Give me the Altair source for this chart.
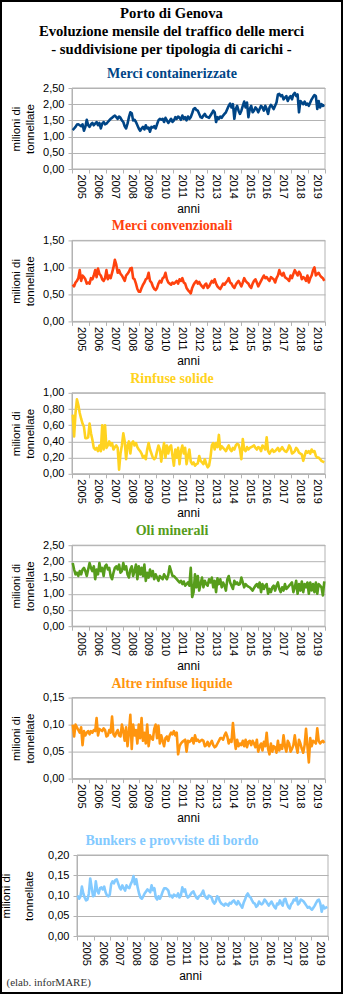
import altair as alt
import pandas as pd

anni = list(range(2005, 2020))

merci_containerizzate = [
    1.20, 1.25, 1.30, 1.37, 1.38, 1.35, 1.32, 1.38, 1.18, 1.30, 1.52, 1.35,
    1.30, 1.38, 1.42, 1.35, 1.40, 1.45, 1.35, 1.42, 1.25, 1.40, 1.45, 1.38,
    1.40, 1.45, 1.50, 1.55, 1.58, 1.62, 1.65, 1.60, 1.55, 1.62, 1.58, 1.50,
    1.45, 1.32, 1.25, 1.40, 1.60, 1.75, 1.72, 1.50, 1.52, 1.45, 1.35, 1.25,
    1.18, 1.25, 1.30, 1.22, 1.35, 1.25, 1.28, 1.15, 1.30, 1.28, 1.32, 1.25,
    1.38, 1.50, 1.55, 1.52, 1.55, 1.45, 1.58, 1.50, 1.42, 1.48, 1.55, 1.45,
    1.50, 1.60, 1.55, 1.62, 1.58, 1.52, 1.65, 1.55, 1.60, 1.50, 1.62, 1.55,
    1.60, 1.72, 1.85, 1.88, 1.82, 1.80, 1.70, 1.60, 1.58, 1.65, 1.70, 1.62,
    1.60, 1.58, 1.65, 1.72, 1.80, 1.75, 1.45, 1.60, 1.55, 1.62, 1.58, 1.65,
    1.70, 1.75, 1.85, 1.95, 2.02, 1.90, 2.00, 1.55, 1.85, 1.95, 1.80, 1.70,
    1.80, 1.95, 2.08, 1.90, 2.05, 1.60, 1.85, 1.95, 1.75, 1.80, 1.90, 1.85,
    1.75, 1.85, 1.95, 1.90, 1.80, 1.95, 1.85, 1.70, 1.90, 1.98, 1.92, 1.85,
    1.95, 2.05, 2.30, 2.32, 2.25, 2.28, 2.15, 2.20, 2.25, 2.10, 2.20, 2.25,
    2.15, 2.30, 2.35, 2.25, 2.30, 1.75, 2.10, 2.05, 2.00, 2.08, 1.98, 2.02,
    1.95, 2.05, 2.15, 2.22, 2.28, 2.25, 1.85, 2.10, 1.90, 2.00, 1.95, 1.98,
]

merci_convenzionali = [
    0.68, 0.65, 0.72, 0.75, 0.80, 0.95, 0.75, 0.85, 0.82, 0.78, 0.70, 0.72,
    0.70, 0.80, 0.78, 0.85, 0.95, 0.82, 0.98, 0.88, 0.85, 0.78, 0.75, 0.80,
    0.95, 0.78, 0.85, 0.80, 0.90, 1.00, 1.14, 1.05, 0.90, 0.95, 0.88, 0.85,
    0.80, 0.75, 0.85, 0.88, 0.92, 0.98, 0.99, 0.80, 0.78, 0.70, 0.60, 0.55,
    0.55, 0.62, 0.68, 0.72, 0.78, 0.80, 0.90, 0.75, 0.72, 0.65, 0.60, 0.58,
    0.62, 0.70, 0.75, 0.72, 0.80, 0.82, 0.90, 0.78, 0.72, 0.70, 0.68, 0.72,
    0.70, 0.72, 0.75, 0.70, 0.78, 0.75, 0.80, 0.72, 0.70, 0.62, 0.58, 0.55,
    0.52, 0.62, 0.68, 0.72, 0.75, 0.70, 0.73, 0.68, 0.65, 0.62, 0.68, 0.70,
    0.62, 0.65, 0.70, 0.75, 0.72, 0.78, 0.70, 0.65, 0.62, 0.60, 0.65, 0.70,
    0.68, 0.72, 0.75, 0.80, 0.72, 0.70, 0.65, 0.62, 0.68, 0.72, 0.75, 0.70,
    0.65, 0.72, 0.80, 0.75, 0.72, 0.70, 0.65, 0.62, 0.70, 0.75, 0.78, 0.72,
    0.65, 0.70, 0.75, 0.80, 0.85, 0.80, 0.82, 0.78, 0.75, 0.82, 0.80, 0.78,
    0.72, 0.80, 0.85, 0.95, 0.88, 0.85, 0.90, 0.82, 0.80, 0.78, 0.75, 0.85,
    0.80, 0.88, 0.95, 0.90, 0.85, 0.92, 0.88, 0.78, 0.82, 0.80, 0.75, 0.85,
    0.72, 0.80, 0.85, 0.95, 1.00, 0.85, 0.88, 0.90, 0.85, 0.82, 0.80, 0.75,
]

rinfuse_solide = [
    0.73, 0.46, 0.75, 0.92, 0.85, 0.75, 0.68, 0.62, 0.58, 0.44, 0.44, 0.45,
    0.62, 0.50, 0.42, 0.32, 0.30, 0.32, 0.28, 0.35, 0.28, 0.60, 0.30, 0.60,
    0.32, 0.35, 0.40, 0.35, 0.38, 0.30, 0.33, 0.35, 0.32, 0.05, 0.25, 0.35,
    0.50, 0.40, 0.18, 0.35, 0.40, 0.25, 0.38, 0.40, 0.35, 0.38, 0.33, 0.30,
    0.28, 0.25, 0.20, 0.22, 0.18, 0.30, 0.38, 0.30, 0.25, 0.20, 0.18, 0.20,
    0.28, 0.35, 0.30, 0.15, 0.28, 0.38, 0.20, 0.35, 0.25, 0.33, 0.35, 0.22,
    0.10, 0.30, 0.20, 0.32, 0.12, 0.28, 0.35, 0.25, 0.32, 0.12, 0.22, 0.30,
    0.15, 0.12, 0.14, 0.10, 0.12, 0.13, 0.22, 0.16, 0.14, 0.12, 0.18, 0.12,
    0.08, 0.10, 0.20, 0.35, 0.38, 0.30, 0.38, 0.33, 0.48, 0.30, 0.34, 0.32,
    0.30, 0.28, 0.32, 0.35, 0.30, 0.28, 0.32, 0.30, 0.35, 0.37, 0.36, 0.30,
    0.18, 0.43, 0.30, 0.28, 0.33, 0.30, 0.32, 0.33, 0.34, 0.35, 0.32, 0.30,
    0.33, 0.32, 0.28, 0.35, 0.33, 0.30, 0.45, 0.28, 0.25, 0.28, 0.30, 0.27,
    0.28, 0.30, 0.32, 0.28, 0.30, 0.33, 0.30, 0.28, 0.27, 0.30, 0.35, 0.32,
    0.25, 0.26, 0.28, 0.32, 0.30, 0.26, 0.25, 0.24, 0.16, 0.22, 0.28, 0.26,
    0.28, 0.25, 0.30, 0.27, 0.28, 0.22, 0.20, 0.20, 0.18, 0.16, 0.15, 0.14,
]

oli_minerali = [
    1.95, 1.75, 1.60, 1.65, 1.55, 1.70, 1.60, 1.75, 1.80, 1.70, 1.55, 1.75,
    1.95, 1.80, 1.70, 1.85, 1.45, 1.75, 1.60, 1.95, 1.70, 1.80, 1.55, 1.85,
    1.90, 1.75, 1.80, 1.55, 1.45, 1.65, 1.80, 1.85, 1.75, 1.90, 1.65, 1.70,
    1.95, 1.75, 1.85, 1.60, 1.50, 1.75, 1.85, 1.55, 1.70, 1.90, 1.45, 1.85,
    1.60, 1.80, 1.55, 1.90, 1.40, 1.65, 1.50, 1.75, 1.55, 1.70, 1.45, 1.60,
    1.50, 1.40, 1.55, 1.50, 1.45, 1.60, 1.52, 1.45, 1.58, 1.85, 1.70, 1.55,
    1.55, 1.50, 1.45, 1.40, 1.35, 1.40, 1.30, 1.38, 1.25, 1.30, 1.35, 1.25,
    1.80, 0.90, 1.05, 1.60, 1.20, 1.55, 1.10, 1.30, 1.50, 1.20, 1.40, 1.30,
    1.25, 1.45, 1.35, 1.50, 1.20, 1.40, 1.05, 1.48, 1.30, 1.45, 1.20, 1.35,
    1.25, 1.10, 1.45, 1.55, 1.35, 1.25, 1.15, 1.40, 1.30, 1.35, 1.28, 1.30,
    1.50, 1.35, 1.20, 1.30, 1.25, 1.22, 1.20, 1.15, 1.10, 1.18, 1.25, 1.30,
    1.20, 1.35, 1.05, 1.30, 1.15, 1.25, 1.30, 1.00, 1.15, 1.05, 1.20, 1.25,
    1.10, 1.25, 1.35, 1.15, 1.05, 1.20, 1.10, 1.30, 1.15, 1.20, 1.25, 1.30,
    1.35, 1.05, 1.20, 1.40, 1.00, 1.30, 1.10, 1.38, 1.05, 1.30, 1.20, 1.35,
    1.00, 1.35, 1.10, 1.30, 1.05, 1.35, 1.00, 1.30, 1.25, 1.20, 0.95, 1.38,
]

altre_rinfuse_liquide = [
    0.100, 0.078, 0.100, 0.095, 0.090, 0.085, 0.095, 0.062, 0.088, 0.080, 0.085, 0.088,
    0.082, 0.088, 0.085, 0.090, 0.088, 0.112, 0.080, 0.092, 0.090, 0.088, 0.093, 0.090,
    0.078, 0.080, 0.090, 0.085, 0.115, 0.082, 0.078, 0.085, 0.090, 0.080, 0.078, 0.100,
    0.088, 0.070, 0.095, 0.060, 0.085, 0.118, 0.055, 0.100, 0.080, 0.090, 0.065, 0.100,
    0.075, 0.112, 0.070, 0.085, 0.065, 0.100, 0.060, 0.080, 0.075, 0.072, 0.092, 0.100,
    0.075, 0.098, 0.065, 0.080, 0.070, 0.060, 0.075, 0.078, 0.070, 0.080, 0.085, 0.082,
    0.088, 0.080, 0.085, 0.045, 0.060, 0.065, 0.068, 0.070, 0.072, 0.050, 0.070, 0.068,
    0.070, 0.075, 0.065, 0.080, 0.070, 0.072, 0.068, 0.070, 0.072, 0.070, 0.060, 0.062,
    0.068, 0.060, 0.065, 0.070, 0.062, 0.058, 0.060, 0.065, 0.070, 0.075, 0.075, 0.072,
    0.080, 0.085, 0.078, 0.065, 0.072, 0.068, 0.103, 0.075, 0.055, 0.072, 0.060, 0.065,
    0.062, 0.070, 0.060, 0.072, 0.058, 0.068, 0.070, 0.062, 0.070, 0.065, 0.058, 0.072,
    0.050, 0.060, 0.065, 0.052, 0.068, 0.060, 0.085, 0.055, 0.045, 0.065, 0.050, 0.060,
    0.058, 0.048, 0.070, 0.052, 0.062, 0.055, 0.080, 0.060, 0.050, 0.070, 0.065, 0.050,
    0.055, 0.062, 0.080, 0.060, 0.048, 0.072, 0.065, 0.055, 0.048, 0.062, 0.092, 0.060,
    0.030, 0.075, 0.060, 0.070, 0.068, 0.065, 0.093, 0.070, 0.065, 0.068, 0.070, 0.066,
]

bunkers_provviste = [
    0.100, 0.092, 0.098, 0.122, 0.105, 0.095, 0.088, 0.090, 0.105, 0.142, 0.120, 0.098,
    0.100, 0.135, 0.112, 0.105, 0.118, 0.120, 0.115, 0.122, 0.108, 0.100, 0.098, 0.102,
    0.128, 0.135, 0.130, 0.138, 0.140, 0.130, 0.120, 0.115, 0.125, 0.118, 0.112, 0.125,
    0.120, 0.118, 0.128, 0.135, 0.148, 0.128, 0.140, 0.120, 0.105, 0.095, 0.092, 0.098,
    0.105, 0.110, 0.115, 0.112, 0.108, 0.125, 0.113, 0.118, 0.095, 0.090, 0.098, 0.092,
    0.100, 0.110, 0.118, 0.118, 0.116, 0.112, 0.098, 0.100, 0.095, 0.102, 0.100, 0.098,
    0.105, 0.095, 0.100, 0.120, 0.110, 0.115, 0.100, 0.095, 0.098, 0.103, 0.108, 0.110,
    0.102, 0.095, 0.092, 0.098, 0.100, 0.105, 0.112, 0.100, 0.095, 0.092, 0.100, 0.098,
    0.095, 0.085, 0.080, 0.085, 0.098, 0.095, 0.085, 0.080, 0.078, 0.075, 0.080, 0.078,
    0.075, 0.082, 0.080, 0.085, 0.088, 0.082, 0.078, 0.086, 0.080, 0.075, 0.070, 0.082,
    0.090, 0.100, 0.105, 0.098, 0.095, 0.088, 0.082, 0.080, 0.072, 0.075, 0.085, 0.080,
    0.078, 0.082, 0.090, 0.086, 0.080, 0.075, 0.080, 0.085, 0.078, 0.072, 0.068, 0.080,
    0.078, 0.088, 0.080, 0.075, 0.090, 0.092, 0.080, 0.072, 0.068, 0.078, 0.082, 0.090,
    0.088, 0.095, 0.078, 0.082, 0.090, 0.088, 0.085, 0.080, 0.075, 0.070, 0.072, 0.068,
    0.065, 0.070, 0.075, 0.082, 0.088, 0.090, 0.080, 0.060, 0.075, 0.068, 0.070, 0.072,
]

titolo = ["Porto di Genova",
          "Evoluzione mensile del traffico delle merci",
          "- suddivisione per tipologia di carichi -"]
fonte = "(elab. inforMARE)"

pannelli = [
    ("Merci containerizzate", "#004586", merci_containerizzate, 2.5, [0, 0.5, 1.0, 1.5, 2.0, 2.5]),
    ("Merci convenzionali", "#ff420e", merci_convenzionali, 1.5, [0, 0.5, 1.0, 1.5]),
    ("Rinfuse solide", "#ffd320", rinfuse_solide, 1.0, [0, 0.2, 0.4, 0.6, 0.8, 1.0]),
    ("Oli minerali", "#579d1c", oli_minerali, 2.5, [0, 0.5, 1.0, 1.5, 2.0, 2.5]),
    ("Altre rinfuse liquide", "#ff950e", altre_rinfuse_liquide, 0.15, [0, 0.05, 0.10, 0.15]),
    ("Bunkers e provviste di bordo", "#83caff", bunkers_provviste, 0.20, [0, 0.05, 0.10, 0.15, 0.20]),
]

GRAY = "#b3b3b3"
SANS = "Liberation Sans"
SERIF = "Liberation Serif"
LEFT = 72      # page x of every panel's group origin
TOP0 = 88      # page y of the first panel's group origin
H = 81
W = 253
SPACING = 71.4


def make_panel(idx, title, color, values, ymax, yticks, dx=0, dy=0, wvis=W, title_lh=14.5,
               ytitle_x=16, xtitle_x=188):
    gw = dx + wvis          # group width
    gh = dy + H             # group height
    top = TOP0 + idx * (H + SPACING)
    t = [anni[0] + (i + 0.5) / 12 for i in range(len(values))]
    df = pd.DataFrame({"t": t, "v": values})
    xaxis = alt.Axis(
        values=anni + [anni[-1] + 1],
        labelExpr="datum.value < 2020 ? toString(datum.value) : ''",
        labelAngle=90, labelOffset=wvis / 30, labelFlush=False, labelOverlap=False,
        tickSize=4, labelPadding=1, labelFont=SANS, labelFontSize=11, labelColor="black",
        grid=False, domainColor=GRAY, tickColor=GRAY,
        title="anni", titleFont=SANS, titleFontSize=12, titleFontWeight="normal",
        titleColor="black", titleX=xtitle_x - LEFT, titleY=43, titleBaseline="alphabetic",
        titleAlign="center",
    )
    yaxis = alt.Axis(
        values=yticks, offset=-dx,
        labelExpr="replace(format(datum.value, '.2f'), '.', ',')",
        tickSize=4, labelPadding=4, labelFont=SANS, labelFontSize=11, labelColor="black",
        gridColor=GRAY, domainColor=GRAY, tickColor=GRAY,
        title=["milioni di", "tonnellate"], titleFont=SANS, titleFontSize=11.5,
        titleFontWeight="normal", titleColor="black", titleAngle=270,
        titleX=ytitle_x - (LEFT + dx), titleY=dy + H / 2, titleBaseline="middle",
        titleAlign="center", titleLineHeight=title_lh,
    )
    line = alt.Chart(df).mark_line(color=color, strokeWidth=2.6, strokeJoin="round").encode(
        x=alt.X("t:Q", scale=alt.Scale(domain=[2005, 2020], nice=False, zero=False, range=[dx, gw]),
                axis=xaxis),
        y=alt.Y("v:Q", scale=alt.Scale(domain=[0, ymax], nice=False, range=[gh, dy]), axis=yaxis),
    )
    one = alt.Data(values=[{}])
    ttl = alt.Chart(one).mark_text(
        text=title, font=SERIF, fontSize=14, fontWeight="bold", color=color,
        align="center", baseline="alphabetic",
    ).encode(x=alt.value(172 - LEFT), y=alt.value(dy - 10))
    frame = alt.Chart(one).mark_rect(fillOpacity=0, stroke=GRAY, strokeWidth=1).encode(
        x=alt.value(dx), x2=alt.value(gw), y=alt.value(dy), y2=alt.value(gh))
    layers = [frame, line, ttl]
    if idx == 0:
        main = alt.Chart(one).mark_text(
            text=titolo, font=SERIF, fontSize=14.7, fontWeight="bold", color="black",
            align="center", baseline="alphabetic", lineHeight=18,
        ).encode(x=alt.value(171.5 - LEFT), y=alt.value(17.5 - top))
        border = alt.Chart(one).mark_rect(
            fillOpacity=0, stroke="black", strokeWidth=2,
        ).encode(x=alt.value(1 - LEFT), x2=alt.value(342 - LEFT),
                 y=alt.value(1 - top), y2=alt.value(993 - top))
        layers += [main, border]
    if idx == 5:
        cred = alt.Chart(one).mark_text(
            text=fonte, font=SERIF, fontSize=11, color="#333333", align="left",
            baseline="alphabetic",
        ).encode(x=alt.value(6.5 - LEFT), y=alt.value(986 - top))
        layers.append(cred)
    return alt.layer(*layers).properties(width=gw, height=gh)


panels = [make_panel(i, *p) for i, p in enumerate(pannelli[:5])]
# the last panel sits a few pixels lower and to the right in the reference
panels.append(make_panel(5, *pannelli[5], dx=5, dy=5, wvis=251, title_lh=23.3,
                         ytitle_x=6.7, xtitle_x=190))

chart = alt.vconcat(*panels, spacing=SPACING, bounds="flush").properties(
    padding=0, background="white"
).configure_view(stroke=None)

chart.save("out.html", embed_options={"renderer": "svg", "actions": False})
